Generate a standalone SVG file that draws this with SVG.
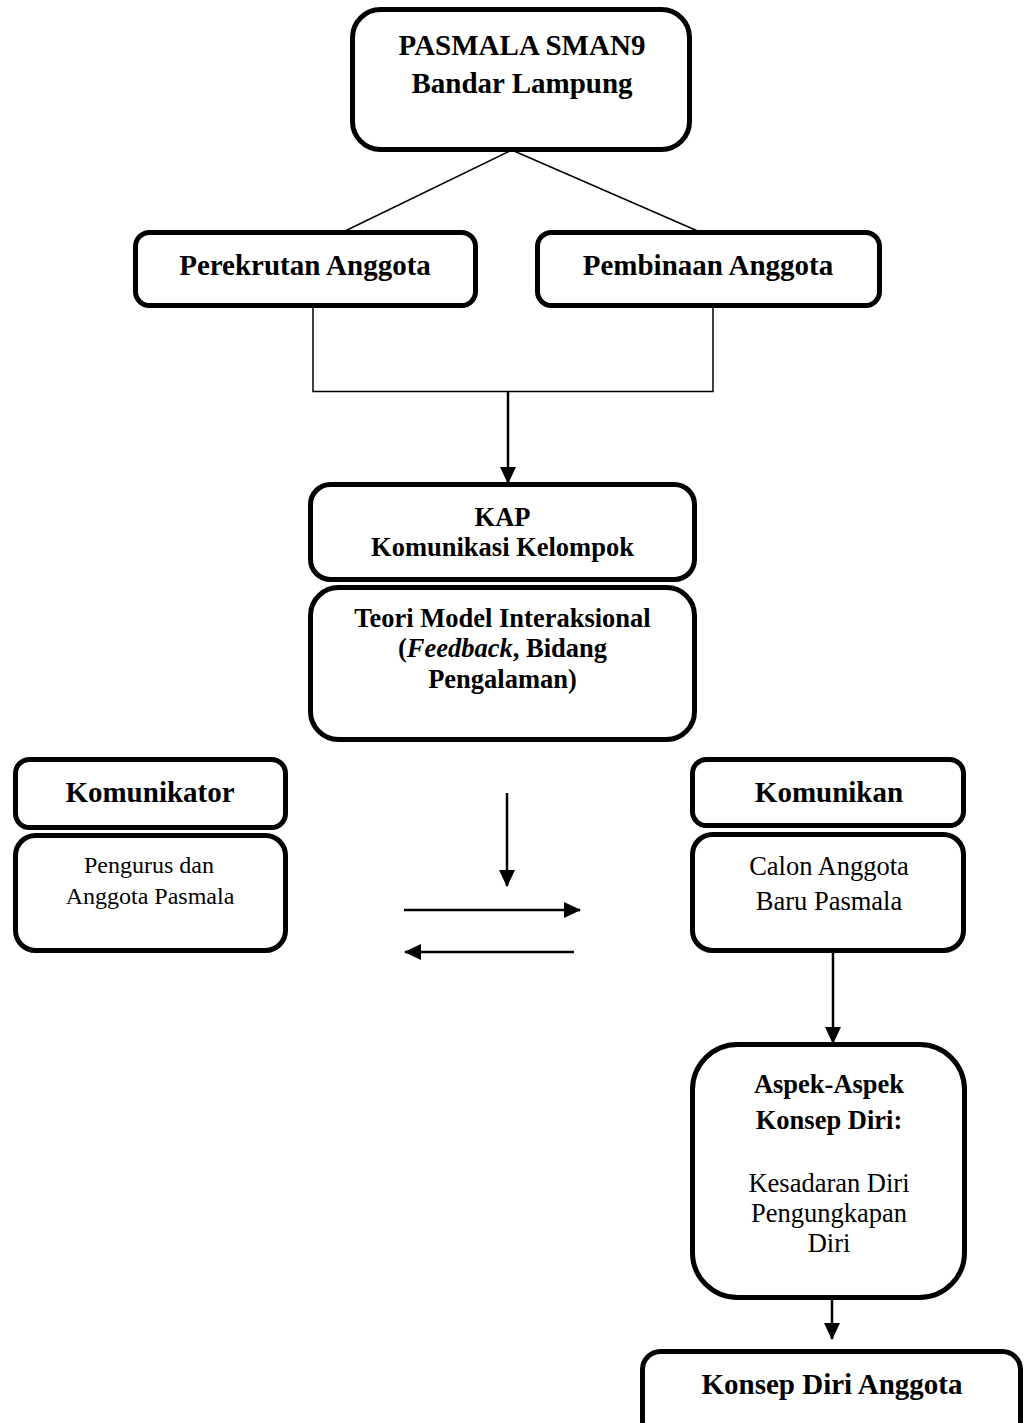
<svg xmlns="http://www.w3.org/2000/svg" width="1024" height="1423" viewBox="0 0 1024 1423">
<style>
.box{fill:#fff;stroke:#000;stroke-width:5}
.b{font-family:"Liberation Serif","Times New Roman",serif;font-weight:bold;text-anchor:middle;fill:#000}
.r{font-family:"Liberation Serif","Times New Roman",serif;text-anchor:middle;fill:#000}
.thin{fill:none;stroke:#000;stroke-width:1.5}
.arr{fill:none;stroke:#000;stroke-width:2.5;marker-end:url(#ah)}
</style>
<defs>
<marker id="ah" markerUnits="userSpaceOnUse" markerWidth="17" markerHeight="16" refX="16" refY="8" orient="auto" viewBox="0 0 17 16">
<path d="M0,0 L17,8 L0,16 z" fill="#000"/>
</marker>
</defs>
<rect width="1024" height="1423" fill="#fff"/>
<g id="connectors">
<line class="thin" x1="510" y1="151" x2="343" y2="232"/>
<line class="thin" x1="514" y1="151" x2="700" y2="232"/>
<polyline class="thin" points="313,308 313,391.5 713,391.5 713,308"/>
<line class="arr" x1="508" y1="391" x2="508" y2="483"/>
<line class="arr" x1="507" y1="793" x2="507" y2="886"/>
<line class="arr" x1="404" y1="910" x2="580" y2="910"/>
<line class="arr" x1="574" y1="952" x2="405" y2="952"/>
<line class="arr" x1="833" y1="953" x2="833" y2="1043"/>
<line class="arr" x1="832" y1="1300" x2="832" y2="1339"/>
</g>
<g id="pasmala">
<rect class="box" x="352.5" y="9.5" width="337" height="140" rx="28"/>
<text class="b" x="522" y="55" font-size="29">PASMALA SMAN9</text>
<text class="b" x="522" y="93" font-size="29">Bandar Lampung</text>
</g>
<g id="perekrutan">
<rect class="box" x="135.5" y="232.5" width="340" height="73" rx="14"/>
<text class="b" x="305" y="275" font-size="29">Perekrutan Anggota</text>
</g>
<g id="pembinaan">
<rect class="box" x="537.5" y="232.5" width="342" height="73" rx="14"/>
<text class="b" x="708" y="275" font-size="29">Pembinaan Anggota</text>
</g>
<g id="kap">
<rect class="box" x="310.5" y="484.5" width="384" height="95" rx="20"/>
<text class="b" x="502.5" y="526" font-size="26.5">KAP</text>
<text class="b" x="502.5" y="556" font-size="26.5">Komunikasi Kelompok</text>
</g>
<g id="teori">
<rect class="box" x="310.5" y="587.5" width="384" height="152" rx="28"/>
<text class="b" x="502.5" y="627" font-size="26.5">Teori Model Interaksional</text>
<text class="b" x="502.5" y="657" font-size="26.5">(<tspan font-style="italic">Feedback</tspan>, Bidang</text>
<text class="b" x="502.5" y="688" font-size="26.5">Pengalaman)</text>
</g>
<g id="komunikator">
<rect class="box" x="15.5" y="759.5" width="270" height="68" rx="14"/>
<text class="b" x="150" y="802" font-size="29">Komunikator</text>
</g>
<g id="pengurus">
<rect class="box" x="15.5" y="835.5" width="270" height="115" rx="20"/>
<text class="r" x="149" y="873" font-size="24">Pengurus dan</text>
<text class="r" x="150" y="904" font-size="24">Anggota Pasmala</text>
</g>
<g id="komunikan">
<rect class="box" x="692.5" y="759.5" width="271" height="66" rx="14"/>
<text class="b" x="829" y="802" font-size="29">Komunikan</text>
</g>
<g id="calon">
<rect class="box" x="692.5" y="834.5" width="271" height="116" rx="20"/>
<text class="r" x="829" y="875" font-size="26.5">Calon Anggota</text>
<text class="r" x="829" y="910" font-size="26.5">Baru Pasmala</text>
</g>
<g id="aspek">
<rect class="box" x="692.5" y="1044.5" width="272" height="253" rx="45"/>
<text class="b" x="829" y="1093" font-size="26.5">Aspek-Aspek</text>
<text class="b" x="829" y="1129" font-size="26.5">Konsep Diri:</text>
<text class="r" x="829" y="1192" font-size="26.5">Kesadaran Diri</text>
<text class="r" x="829" y="1222" font-size="26.5">Pengungkapan</text>
<text class="r" x="829" y="1252" font-size="26.5">Diri</text>
</g>
<g id="konsep">
<rect class="box" x="642.5" y="1351.5" width="378" height="100" rx="18"/>
<text class="b" x="832" y="1394" font-size="29">Konsep Diri Anggota</text>
</g>
</svg>
